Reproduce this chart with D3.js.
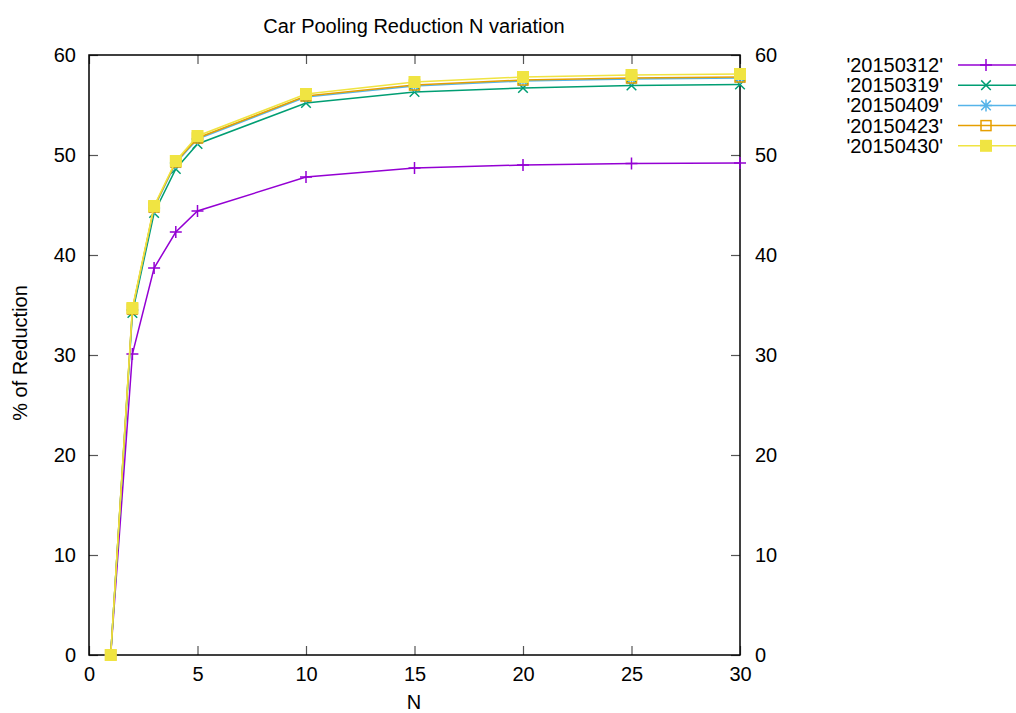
<!DOCTYPE html>
<html>
<head>
<meta charset="utf-8">
<script src="https://cdn.jsdelivr.net/npm/d3@7"></script>
<style>
  body { margin: 0; background: #fff; }
  text { font-family: "Liberation Sans", Arial, sans-serif; }
</style>
</head>
<body>
<script>
// N values on the x axis
var nValues = [1, 2, 3, 4, 5, 10, 15, 20, 25, 30];

// % of reduction per run date
var seriesNames = ["'20150312'", "'20150319'", "'20150409'", "'20150423'", "'20150430'"];
var s20150312 = [0, 30.1, 38.7, 42.3, 44.4, 47.8, 48.7, 49.0, 49.15, 49.2];
var s20150319 = [0, 34.2, 44.2, 48.6, 51.1, 55.2, 56.3, 56.7, 56.95, 57.05];
var s20150409 = [0, 34.5, 44.7, 49.2, 51.6, 55.8, 56.9, 57.4, 57.6, 57.7];
var s20150423 = [0, 34.6, 44.8, 49.3, 51.7, 55.9, 57.0, 57.5, 57.7, 57.8];
var s20150430 = [0, 34.7, 44.9, 49.4, 51.9, 56.1, 57.3, 57.8, 58.0, 58.1];

var xTicks = [0, 5, 10, 15, 20, 25, 30];
var yTicks = [0, 10, 20, 30, 40, 50, 60];

var allSeries = [s20150312, s20150319, s20150409, s20150423, s20150430];
var colors = ["#9400d3", "#009e73", "#56b4e9", "#e69f00", "#f0e442"];
var markers = ["plus", "cross", "star", "box", "fbox"];

var w = 1016, h = 713;
var plotLeft = 89, plotRight = 740, plotTop = 55, plotBottom = 655;
var fontSize = 20;

var svg = d3.select("body").append("svg")
  .attr("width", w)
  .attr("height", h);

var x = d3.scaleLinear().domain([0, 30]).range([plotLeft, plotRight]);
var y = d3.scaleLinear().domain([0, 60]).range([plotBottom, plotTop]);

// axes with inward ticks, mirrored on the other side
var tickLen = 9;
function styleAxis(g) {
  g.select(".domain").remove();
  g.selectAll(".tick line").attr("stroke", "#555").attr("stroke-width", 1.2);
  g.selectAll(".tick text").attr("font-size", fontSize).attr("fill", "#000")
    .attr("font-family", "Liberation Sans, Arial, sans-serif");
}

svg.append("g").attr("transform", "translate(0," + plotBottom + ")")
  .call(d3.axisBottom(x).tickValues(xTicks).tickSizeInner(-tickLen).tickSizeOuter(0).tickPadding(12))
  .call(styleAxis);
svg.append("g").attr("transform", "translate(0," + plotTop + ")")
  .call(d3.axisTop(x).tickValues(xTicks).tickSizeInner(-tickLen).tickSizeOuter(0).tickFormat(""))
  .call(styleAxis);
svg.append("g").attr("transform", "translate(" + plotLeft + ",0)")
  .call(d3.axisLeft(y).tickValues(yTicks).tickSizeInner(-tickLen).tickSizeOuter(0).tickPadding(13))
  .call(styleAxis);
svg.append("g").attr("transform", "translate(" + plotRight + ",0)")
  .call(d3.axisRight(y).tickValues(yTicks).tickSizeInner(-tickLen).tickSizeOuter(0).tickPadding(15))
  .call(styleAxis);

// plot border
svg.append("rect")
  .attr("x", plotLeft).attr("y", plotTop)
  .attr("width", plotRight - plotLeft).attr("height", plotBottom - plotTop)
  .attr("fill", "none").attr("stroke", "#000").attr("stroke-width", 1.5);

// draw a marker at cx, cy
function drawMarker(g, type, cx, cy, color) {
  var s = 6;
  if (type == "plus") {
    g.append("path").attr("d", "M" + (cx - s) + "," + cy + "H" + (cx + s) + "M" + cx + "," + (cy - s) + "V" + (cy + s))
      .attr("stroke", color).attr("stroke-width", 1.5);
  } else if (type == "cross") {
    var d = s * 0.8;
    g.append("path").attr("d", "M" + (cx - d) + "," + (cy - d) + "L" + (cx + d) + "," + (cy + d) + "M" + (cx - d) + "," + (cy + d) + "L" + (cx + d) + "," + (cy - d))
      .attr("stroke", color).attr("stroke-width", 1.5);
  } else if (type == "star") {
    var d2 = s * 0.8;
    g.append("path").attr("d", "M" + (cx - s) + "," + cy + "H" + (cx + s) + "M" + cx + "," + (cy - s) + "V" + (cy + s) +
      "M" + (cx - d2) + "," + (cy - d2) + "L" + (cx + d2) + "," + (cy + d2) + "M" + (cx - d2) + "," + (cy + d2) + "L" + (cx + d2) + "," + (cy - d2))
      .attr("stroke", color).attr("stroke-width", 1.5);
  } else if (type == "box") {
    g.append("rect").attr("x", cx - 5).attr("y", cy - 5).attr("width", 10).attr("height", 10)
      .attr("fill", "none").attr("stroke", color).attr("stroke-width", 1.5);
  } else {
    g.append("rect").attr("x", cx - 6).attr("y", cy - 6).attr("width", 12).attr("height", 12)
      .attr("fill", color);
  }
}

var line = d3.line()
  .x(function(d, i) { return x(nValues[i]); })
  .y(function(d) { return y(d); });

allSeries.forEach(function(vals, k) {
  var g = svg.append("g");
  g.append("path").datum(vals)
    .attr("d", line)
    .attr("fill", "none")
    .attr("stroke", colors[k])
    .attr("stroke-width", 1.5);
  vals.forEach(function(v, i) {
    drawMarker(g, markers[k], x(nValues[i]), y(v), colors[k]);
  });
});

// legend
var legend = svg.append("g");
seriesNames.forEach(function(name, k) {
  var ly = 65 + k * 20.2;
  legend.append("text")
    .attr("x", 943).attr("y", ly + 7)
    .attr("text-anchor", "end")
    .attr("font-size", fontSize)
    .text(name);
  legend.append("line")
    .attr("x1", 958).attr("x2", 1016)
    .attr("y1", ly).attr("y2", ly)
    .attr("stroke", colors[k]).attr("stroke-width", 1.5);
  drawMarker(legend, markers[k], 986, ly, colors[k]);
});

// title and axis labels
svg.append("text")
  .attr("x", 414).attr("y", 33)
  .attr("text-anchor", "middle")
  .attr("font-size", fontSize)
  .text("Car Pooling Reduction N variation");

svg.append("text")
  .attr("x", 414).attr("y", 709)
  .attr("text-anchor", "middle")
  .attr("font-size", fontSize)
  .text("N");

svg.append("text")
  .attr("transform", "translate(27,353) rotate(-90)")
  .attr("text-anchor", "middle")
  .attr("font-size", fontSize)
  .text("% of Reduction");
</script>
</body>
</html>
